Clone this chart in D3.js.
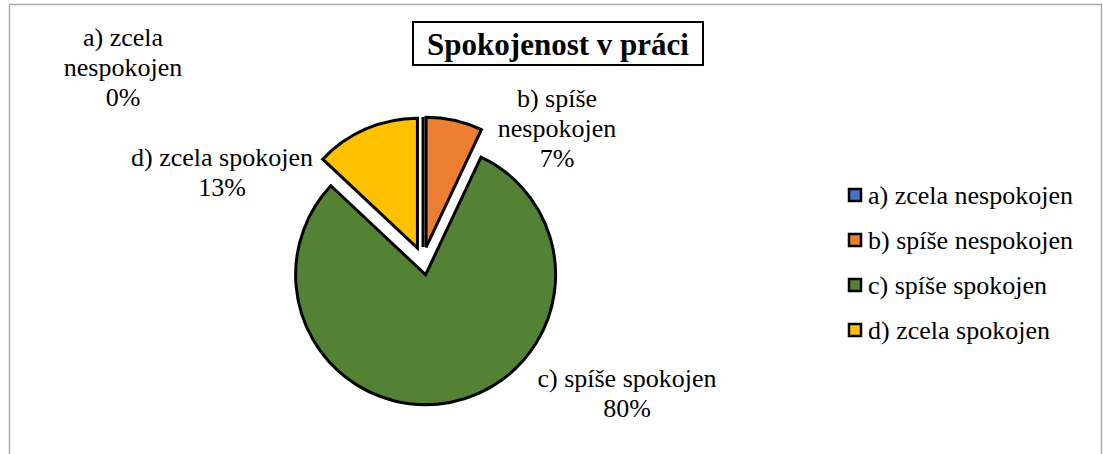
<!DOCTYPE html>
<html>
<head>
<meta charset="utf-8">
<script src="https://cdn.jsdelivr.net/npm/d3@7"></script>
<style>
    body { margin: 0; background: #fff; }
</style>
</head>
<body>
<script>
let svgWidth = 1103
let svgHeight = 454
let fontFamily = "'Liberation Serif', 'Times New Roman', Tinos, 'DejaVu Serif', serif"

// data
let categories = ["a) zcela nespokojen", "b) spíše nespokojen", "c) spíše spokojen", "d) zcela spokojen"]
let labelLines = [["a) zcela", "nespokojen"], ["b) spíše", "nespokojen"], ["c) spíše spokojen"], ["d) zcela spokojen"]]
let values = [0, 7, 80, 13]
let title = "Spokojenost v práci"

let colors = ["#4472c4", "#ed7d31", "#548235", "#ffc000"]

// layout
let center = { x: 423, y: 261 }
let radius = 130
let explode = 14
let labelPos = [[123, 37], [557, 98], [627, 378], [222, 157]]
let lineH = 30

let svg = d3.select("body")
    .append("svg")
    .attr("width", svgWidth)
    .attr("height", svgHeight)
    .style("font-family", fontFamily)

// chart area border
svg.append("rect")
    .attr("x", 9.5)
    .attr("y", 4.5)
    .attr("width", 1092)
    .attr("height", 470)
    .attr("fill", "none")
    .attr("stroke", "#ababab")
    .attr("stroke-width", 1.5)

let total = d3.sum(values)

let pie = d3.pie()
    .sort(null)
    .value(function (d) { return d })
let arcs = pie(values)

let arc = d3.arc()
    .innerRadius(0)
    .outerRadius(radius)

let pieG = svg.append("g")
    .attr("transform", "translate(" + center.x + "," + center.y + ")")

pieG.selectAll("path")
    .data(arcs)
    .enter()
    .append("path")
    .attr("d", arc)
    .attr("fill", function (d, i) { return colors[i] })
    .attr("stroke", "#000")
    .attr("stroke-width", 3)
    .attr("stroke-linejoin", "miter")
    .attr("transform", function (d) {
        let a = (d.startAngle + d.endAngle) / 2
        return "translate(" + (explode * Math.sin(a)) + "," + (-explode * Math.cos(a)) + ")"
    })

// data labels
let labels = svg.append("g")
    .attr("font-family", fontFamily)
    .attr("font-size", 26)
    .attr("text-anchor", "middle")
    .selectAll("text")
    .data(arcs)
    .enter()
    .append("text")
    .attr("x", function (d, i) { return labelPos[i][0] })
    .attr("y", function (d, i) { return labelPos[i][1] })

labels.each(function (d, i) {
    let t = d3.select(this)
    let lines = labelLines[i].concat([Math.round(d.data / total * 100) + "%"])
    lines.forEach(function (l, j) {
        t.append("tspan")
            .attr("x", labelPos[i][0])
            .attr("dy", j == 0 ? "0.35em" : lineH)
            .text(l)
    })
})

// title
let titleG = svg.append("g")
titleG.append("rect")
    .attr("x", 413)
    .attr("y", 22)
    .attr("width", 290)
    .attr("height", 43)
    .attr("fill", "#fff")
    .attr("stroke", "#000")
    .attr("stroke-width", 2)
titleG.append("text")
    .attr("x", 558)
    .attr("y", 44)
    .attr("dy", "0.35em")
    .attr("text-anchor", "middle")
    .attr("font-family", fontFamily)
    .attr("font-size", 31)
    .attr("font-weight", "bold")
    .text(title)

// legend
let legend = svg.append("g")
    .attr("transform", "translate(849,195)")
    .selectAll("g")
    .data(categories)
    .enter()
    .append("g")
    .attr("transform", function (d, i) { return "translate(0," + i * 45 + ")" })

legend.append("rect")
    .attr("x", 0)
    .attr("y", -6)
    .attr("width", 12)
    .attr("height", 12)
    .attr("fill", function (d, i) { return colors[i] })
    .attr("stroke", "#000")
    .attr("stroke-width", 2.5)

legend.append("text")
    .attr("x", 19)
    .attr("y", 0)
    .attr("dy", "0.35em")
    .attr("font-family", fontFamily)
    .attr("font-size", 26)
    .text(function (d) { return d })
</script>
</body>
</html>
